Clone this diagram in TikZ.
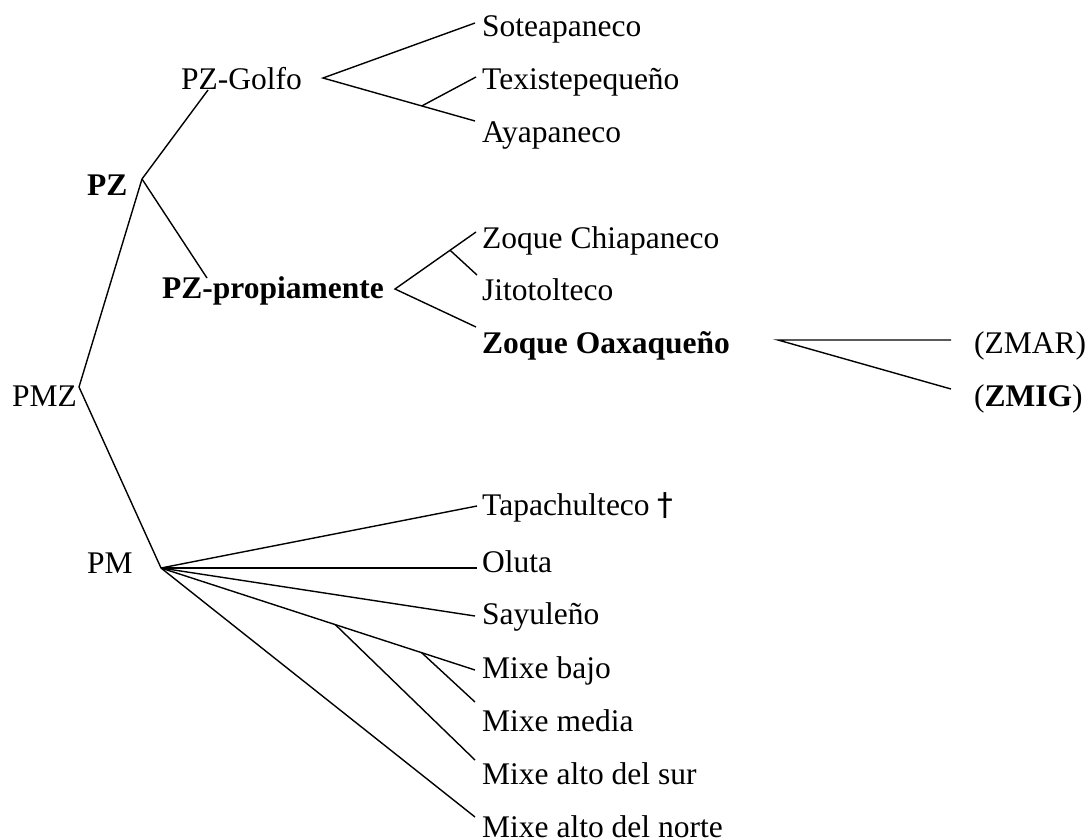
\documentclass[tikz,border=0pt]{standalone}
\usepackage{fontspec}
\setmainfont{Liberation Serif}
\newfontfamily\daggerfont{DejaVu Sans}
\usetikzlibrary{calc}
\begin{document}
\begin{tikzpicture}[x=1pt,y=-1pt,
  lbl/.style={anchor=base west, inner sep=0pt, font=\fontsize{31.5}{36}\selectfont},
  edge/.style={draw=black, line width=1.4pt, line join=miter}]
\useasboundingbox (0,0) rectangle (1090,839);

% ---- labels ----
\node[lbl] (pmz)  at (12,406)  {PMZ};
\node[lbl] (pz)   at (87,195)  {\textbf{PZ}};
\node[lbl] (pm)   at (87,573)  {PM};
\node[lbl] (golfo) at (181,89) {PZ-Golfo};
\node[lbl] (prop) at (162,298) {\textbf{PZ-propiamente}};
\node[lbl] (sote) at (482,36)  {Soteapaneco};
\node[lbl] (texi) at (482,89)  {Texistepequeño};
\node[lbl] (ayap) at (482,142) {Ayapaneco};
\node[lbl] (zchi) at (482,248) {Zoque Chiapaneco};
\node[lbl] (jito) at (482,300) {Jitotolteco};
\node[lbl] (zoax) at (482,353) {\textbf{Zoque Oaxaqueño}};
\node[lbl] (zmar) at (974,353) {(ZMAR)};
\node[lbl] (zmig) at (974,406) {(\textbf{ZMIG})};
\node[lbl] (tapa) at (482,515) {Tapachulteco {\daggerfont †}};
\node[lbl] (olut) at (482,572) {Oluta};
\node[lbl] (sayu) at (482,624) {Sayuleño};
\node[lbl] (mbaj) at (482,678) {Mixe bajo};
\node[lbl] (mmed) at (482,731) {Mixe media};
\node[lbl] (msur) at (482,784) {Mixe alto del sur};
\node[lbl] (mnor) at (482,837) {Mixe alto del norte};

% ---- junctions and line ends ----
\coordinate (pmzJ)  at (79,387);
\coordinate (pzJ)   at (142,179);
\coordinate (pmJ)   at (161,568);
\coordinate (golfoIn) at (208,90);
\coordinate (propIn)  at (207,278);
\coordinate (golfoJ) at (323,78);
\coordinate (soteE) at (475,23);
\coordinate (texiE) at (476,77);
\coordinate (ayapE) at (475,121);
\coordinate (texiB) at ($(golfoJ)!0.65!(ayapE)$);
\coordinate (propJ) at (395,289);
\coordinate (zchiE) at (476,232);
\coordinate (jitoE) at (477,275);
\coordinate (zoaxE) at (476,327);
\coordinate (jitoB) at ($(propJ)!0.68!(zchiE)$);
\coordinate (zoaxJ) at (778,340);
\coordinate (zmarE) at (951,340);
\coordinate (zmigE) at (951,389);
\coordinate (tapaE) at (477,506);
\coordinate (olutE) at (477,568);
\coordinate (sayuE) at (475,616);
\coordinate (mbajE) at (475,670);
\coordinate (mmedE) at (475,702);
\coordinate (msurE) at (475,760);
\coordinate (mnorE) at (475,817);
\coordinate (msurB) at ($(pmJ)!0.555!(mbajE)$);
\coordinate (mmedB) at ($(pmJ)!0.83!(mbajE)$);

% ---- connectors ----
\draw[edge] (golfoIn) -- (pzJ) -- (pmzJ) -- (pmJ);
\draw[edge] (pzJ) -- (propIn);
\draw[edge] (soteE) -- (golfoJ) -- (ayapE);
\draw[edge] (texiB) -- (texiE);
\draw[edge] (zchiE) -- (propJ) -- (zoaxE);
\draw[edge] (jitoB) -- (jitoE);
\draw[edge] (zmarE) -- (zoaxJ) -- (zmigE);
\draw[edge] (pmJ) -- (tapaE);
\draw[edge] (pmJ) -- (olutE);
\draw[edge] (pmJ) -- (sayuE);
\draw[edge] (pmJ) -- (mbajE);
\draw[edge] (pmJ) -- (mnorE);
\draw[edge] (msurB) -- (msurE);
\draw[edge] (mmedB) -- (mmedE);
\end{tikzpicture}
\end{document}
